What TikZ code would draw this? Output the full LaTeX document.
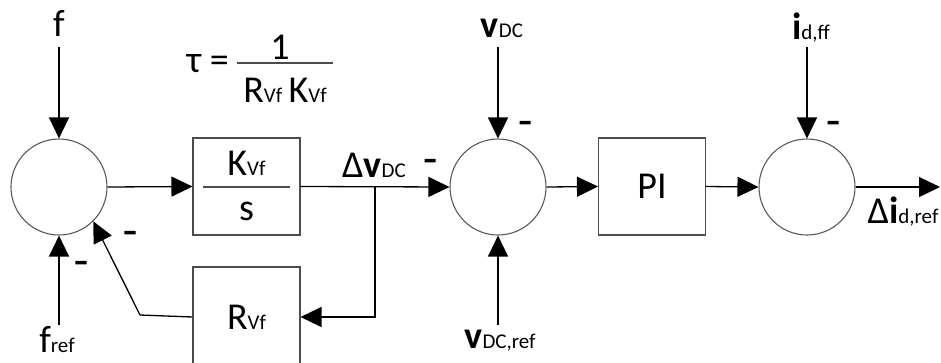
\documentclass[tikz,border=0pt]{standalone}
\usepackage{fontspec}
\setmainfont{Carlito}
\newfontfamily\signfont{Carlito}[FakeBold=4]
\usetikzlibrary{positioning,arrows.meta}

\newcommand{\sbs}[1]{{\fontsize{21}{24}\selectfont #1}}

\begin{document}
\begin{tikzpicture}[
    x=1pt, y=-1pt,
    sumnode/.style={circle, draw=black!65, line width=1.1pt, minimum size=96pt, inner sep=0pt},
    blockbox/.style={rectangle, draw=black!70, line width=1.1pt, minimum width=107pt, minimum height=97pt, inner sep=0pt, font=\fontsize{38}{44}\selectfont},
    sig/.style={line width=1.3pt, -{Triangle[length=21pt, width=20pt]}},
    wire/.style={line width=1.3pt},
    lbl/.style={font=\fontsize{38}{44}\selectfont, inner sep=0pt},
    minus/.style={font=\fontsize{28}{32}\signfont\bfseries, inner sep=0pt},
]
\clip (0,0) rectangle (941,362);

% --- BLOCKS ---
\node[sumnode] (s1) at (59,187) {};
\node[sumnode] (s2) at (498,187) {};
\node[sumnode] (s3) at (807,187) {};
\node[blockbox] (kvf) at (246.5,186.5) {};
\node[blockbox, minimum height=100pt] (rvf) at (246.5,317) {R\sbs{Vf}};
\node[blockbox] (pi) at (652,186.5) {PI};

% fraction inside K/s
\draw[line width=1.1pt, black!70] (203,187) -- (290,187);
\node[lbl] (knum) at (246.5,163) {K\sbs{Vf}};
\node[lbl] (kden) at (246.5,211) {s};

% --- TIME CONSTANT ---
\node[lbl, anchor=east] (tau) at (229,64) {τ =};
\node[lbl] (tnum) at (280,47) {1};
\draw[line width=1.1pt, black!70] (237,63) -- (333,63);
\node[lbl] (tden) at (285,90) {R\sbs{Vf}\,K\sbs{Vf}};

% --- INPUTS ---
\node[lbl] (f) at (59,23) {f};
\node[lbl] (fref) at (57,340) {f\sbs{ref}};
\node[lbl] (vdc) at (502,28) {\textbf{v}\sbs{DC}};
\node[lbl] (vdcref) at (500,341) {\textbf{v}\sbs{DC,ref}};
\node[lbl] (idff) at (811,28) {\textbf{i}\sbs{d,ff}};
\node[lbl] (dvdc) at (374,165) {Δ\textbf{v}\sbs{DC}};
\node[lbl] (didref) at (903,212) {Δ\textbf{i}\sbs{d,ref}};

\coordinate (fin) at (59,47);
\coordinate (frefin) at (59,325);
\coordinate (vdcin) at (498,47);
\coordinate (vdcrefin) at (498,325);
\coordinate (idffin) at (807,47);
\coordinate (out) at (940,187);
\coordinate (tap) at (375,187);
\coordinate (bend) at (140,315);

% --- CONNECTORS ---
\draw[sig] (fin) -- (s1.north);
\draw[sig] (frefin) -- (s1.south);
\draw[sig] (s1.east) -- (kvf.west);
\draw[sig] (kvf.east) -- (s2.west);
\draw[sig] (tap) |- (rvf.east);
\draw[wire] (rvf.west) -- (bend);
\draw[sig] (bend) -- (s1.-45);
\draw[sig] (vdcin) -- (s2.north);
\draw[sig] (vdcrefin) -- (s2.south);
\draw[sig] (s2.east) -- (pi.west);
\draw[sig] (pi.east) -- (s3.west);
\draw[sig] (idffin) -- (s3.north);
\draw[sig] (s3.east) -- (out);

% --- SIGNS ---
\node[minus] (m1) at (81,266) {–};
\node[minus] (m2) at (130,236) {–};
\node[minus] (m3) at (430,164) {–};
\node[minus] (m4) at (525,126) {–};
\node[minus] (m5) at (833,126) {–};

\end{tikzpicture}
\end{document}
